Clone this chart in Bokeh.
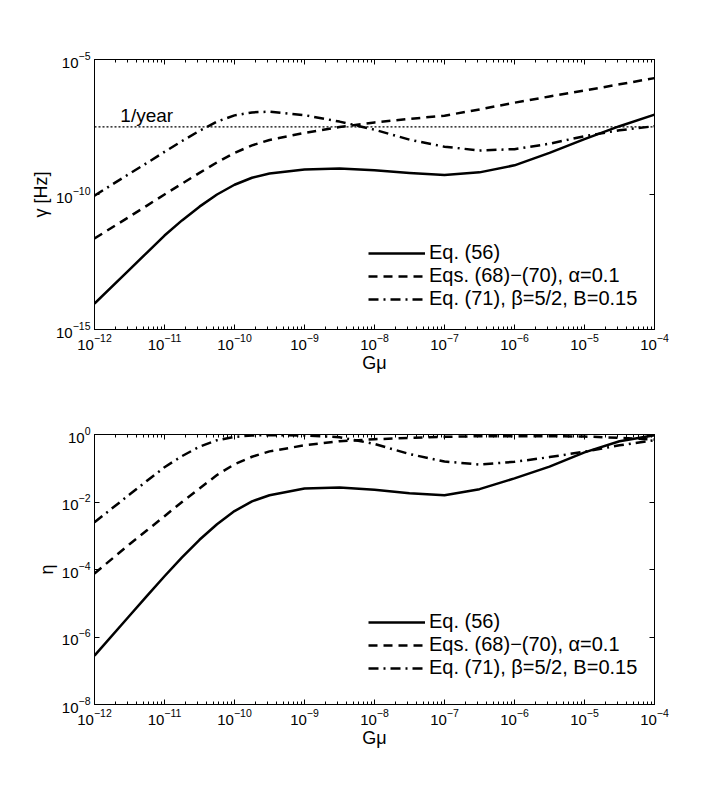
import numpy as np
from bokeh.plotting import figure
from bokeh.models import (Range1d, FixedTicker, LogAxis, Span, Label, Legend,
                          LegendItem, CustomJSTickFormatter)
from bokeh.layouts import column
from bokeh.embed import file_html
from bokeh.resources import INLINE

FONT = "Liberation Sans"

# ---- data (log10 values on log axes) ----
log_gmu = [-12, -11.5, -11.25, -11, -10.75, -10.5, -10.25, -10, -9.75, -9.5, -9, -8.5,
           -8, -7.5, -7, -6.5, -6, -5.5, -5, -4.5, -4]

# top panel: gamma [Hz]
log_gamma_eq56 = [-14.04, -12.78, -12.15, -11.52, -10.96, -10.45, -10.0, -9.64, -9.38, -9.22,
                  -9.07, -9.04, -9.1, -9.2, -9.28, -9.18, -8.92, -8.46, -7.95, -7.47, -7.04]
log_gamma_eq68 = [-11.63, -10.82, -10.41, -10.0, -9.6, -9.2, -8.81, -8.46, -8.18, -7.98,
                  -7.72, -7.5, -7.33, -7.2, -7.08, -6.85, -6.6, -6.37, -6.15, -5.92, -5.69]
log_gamma_eq71 = [-10.04, -9.23, -8.83, -8.42, -8.02, -7.64, -7.3, -7.07, -6.96, -6.93,
                  -7.06, -7.3, -7.6, -7.97, -8.23, -8.37, -8.32, -8.12, -7.84, -7.62, -7.47]

# bottom panel: eta
log_eta_eq56 = [-6.55, -5.37, -4.78, -4.2, -3.64, -3.12, -2.66, -2.27, -1.98, -1.8,
                -1.6, -1.57, -1.64, -1.74, -1.8, -1.62, -1.3, -0.95, -0.53, -0.2, -0.02]
log_eta_eq68 = [-4.12, -3.25, -2.84, -2.42, -2.0, -1.6, -1.2, -0.88, -0.66, -0.5,
                -0.32, -0.2, -0.14, -0.1, -0.07, -0.05, -0.05, -0.05, -0.06, -0.1, -0.15]
log_eta_eq71 = [-2.6, -1.78, -1.37, -0.97, -0.64, -0.36, -0.17, -0.07, -0.03, -0.02,
                -0.03, -0.08, -0.28, -0.58, -0.8, -0.89, -0.81, -0.67, -0.51, -0.32, -0.17]

one_per_year_hz = 3.17e-8

labels = ["Eq. (56)", "Eqs. (68)\u2212(70), \u03b1=0.1", "Eq. (71), \u03b2=5/2, B=0.15"]

x_major = [1e-12, 1e-11, 1e-10, 1e-9, 1e-8, 1e-7, 1e-6, 1e-5, 1e-4]
x_minor = [m * 10.0 ** d for d in range(-12, -4) for m in range(2, 10)]
y_major_top = [1e-15, 1e-10, 1e-5]
y_major_bot = [1e-8, 1e-6, 1e-4, 1e-2, 1.0]

gmu = 10.0 ** np.array(log_gmu)

DASH = "9 6"
DASHDOT = "10 5 2 5"


def style_axis(ax, label=None, standoff=6):
    ax.major_tick_in = 5
    ax.major_tick_out = 0
    ax.minor_tick_in = 3
    ax.minor_tick_out = 0
    ax.axis_line_color = "black"
    ax.major_tick_line_color = "black"
    ax.minor_tick_line_color = "black"
    ax.major_label_text_font = FONT
    ax.major_label_text_font_size = "15px"
    ax.major_label_text_color = "black"
    ax.major_label_standoff = 4
    ax.axis_label_text_font = FONT
    ax.axis_label_text_font_size = "18px"
    ax.axis_label_text_font_style = "normal"
    ax.axis_label_text_color = "black"
    ax.axis_label_standoff = standoff
    if label is not None:
        ax.axis_label = label


def make_fig(yrange, yticks, ylabel, border_top, border_bottom, series, legend_y):
    p = figure(x_axis_type="log", y_axis_type="log",
               x_range=Range1d(1e-12, 1e-4), y_range=Range1d(*yrange),
               frame_width=560, frame_height=270,
               min_border_left=94, min_border_right=50,
               min_border_top=border_top, min_border_bottom=border_bottom,
               output_backend="svg", toolbar_location=None,
               background_fill_color="white", border_fill_color="white")
    p.outline_line_color = "black"
    p.grid.visible = False

    xt = FixedTicker(ticks=x_major, minor_ticks=x_minor)
    yt = FixedTicker(ticks=yticks, minor_ticks=[])
    xa = p.below[0]
    ya = p.left[0]
    xa.ticker = xt
    ya.ticker = yt
    style_axis(xa, "G\u03bc", standoff=0)
    style_axis(ya, ylabel, standoff=2)

    blank = CustomJSTickFormatter(code="return ''")
    top_ax = LogAxis(ticker=FixedTicker(ticks=x_major, minor_ticks=x_minor), formatter=blank)
    right_ax = LogAxis(ticker=FixedTicker(ticks=yticks, minor_ticks=[]), formatter=blank)
    for ax in (top_ax, right_ax):
        style_axis(ax)
        ax.major_label_standoff = 0
        ax.major_label_text_font_size = "1px"
    p.add_layout(top_ax, "above")
    p.add_layout(right_ax, "right")

    y1, y2, y3 = (10.0 ** np.array(s) for s in series)
    r1 = p.line(gmu, y1, line_color="black", line_width=2.5, line_join="round")
    r2 = p.line(gmu, y2, line_color="black", line_width=2.5, line_dash=DASH, line_join="round")
    r3 = p.line(gmu, y3, line_color="black", line_width=2.5, line_dash=DASHDOT, line_join="round")

    leg = Legend(items=[LegendItem(label=labels[0], renderers=[r1]),
                        LegendItem(label=labels[1], renderers=[r2]),
                        LegendItem(label=labels[2], renderers=[r3])],
                 location=(274, legend_y))
    leg.label_text_font = FONT
    leg.label_text_font_size = "20px"
    leg.label_text_color = "black"
    leg.glyph_width = 57
    leg.glyph_height = 22
    leg.label_height = 22
    leg.spacing = 0
    leg.padding = 0
    leg.margin = 0
    leg.label_standoff = 4
    leg.border_line_color = None
    leg.background_fill_alpha = 0
    p.add_layout(leg, "center")
    return p


p1 = make_fig((1e-15, 1e-5), y_major_top, "\u03b3 [Hz]", 59, 79,
              (log_gamma_eq56, log_gamma_eq68, log_gamma_eq71), 19)
p1.add_layout(Span(location=one_per_year_hz, dimension="width", line_color="black",
                   line_width=1.3, line_dash="2 2"))
p1.add_layout(Label(x=2.34e-12, y=8.5e-8, text="1/year", text_font=FONT,
                    text_font_size="19px", text_color="black", text_baseline="alphabetic"))

p2 = make_fig((1e-8, 1.0), y_major_bot, "\u03b7", 26, 70,
              (log_eta_eq56, log_eta_eq68, log_eta_eq71), 25)

layout = column(p1, p2)
open("out.html", "w").write(file_html(layout, INLINE))
